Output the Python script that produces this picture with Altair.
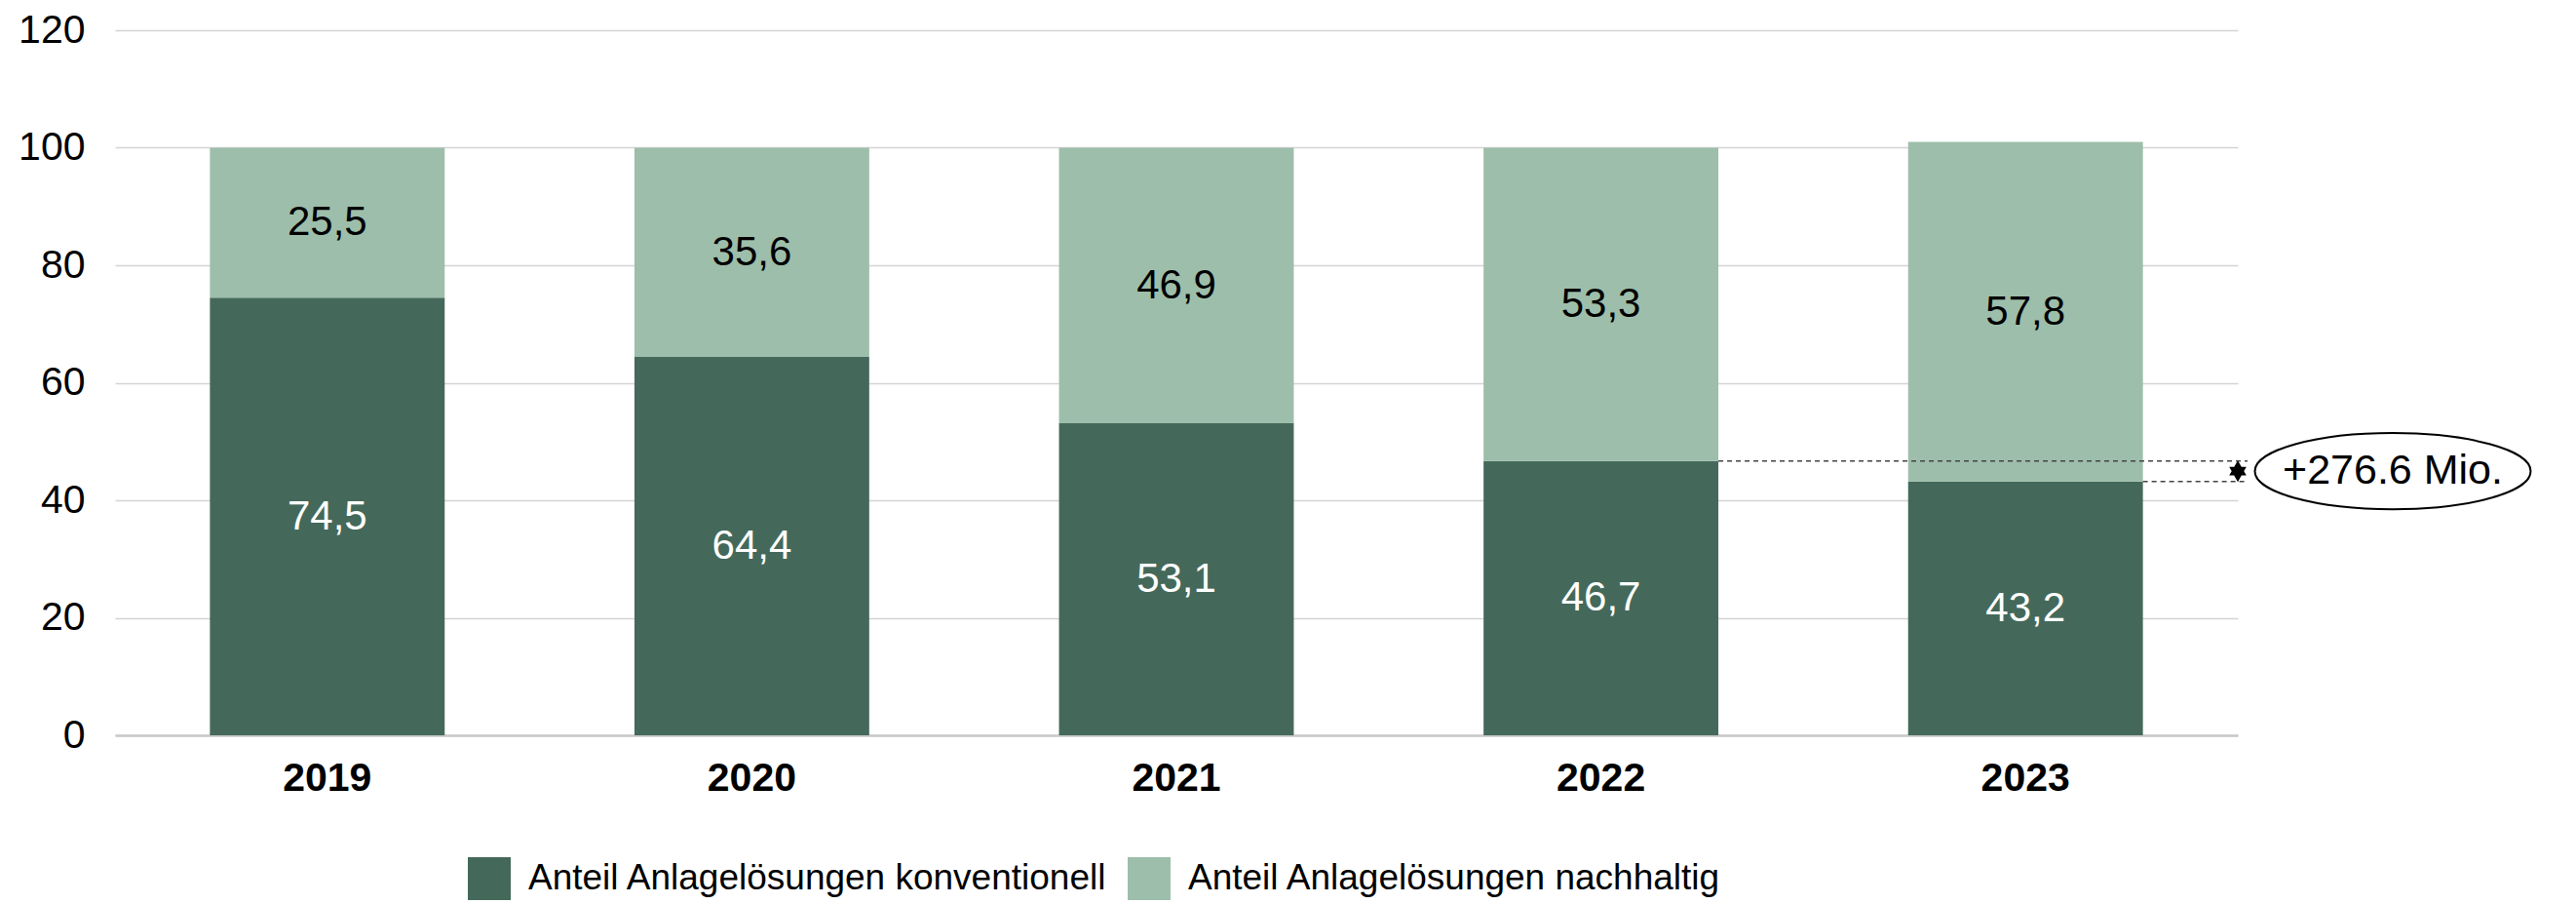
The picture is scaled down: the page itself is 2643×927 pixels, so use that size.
import altair as alt
import pandas as pd

years = ["2019", "2020", "2021", "2022", "2023"]
conv = [74.5, 64.4, 53.1, 46.7, 43.2]
sust = [25.5, 35.6, 46.9, 53.3, 57.8]
series_names = ["Anteil Anlagelösungen konventionell", "Anteil Anlagelösungen nachhaltig"]
series_colors = ["#44695A", "#9DBEAA"]
y_ticks = [0, 20, 40, 60, 80, 100, 120]
annot_text = "+276.6 Mio."

FONT = "Liberation Sans"
W, H = 2178, 723

rows = []
for i, yr in enumerate(years):
    rows.append({"year": yr, "series": series_names[0], "start": 0.0, "end": conv[i],
                 "mid": conv[i] / 2, "label": f"{conv[i]:.1f}".replace(".", ",")})
    rows.append({"year": yr, "series": series_names[1], "start": conv[i], "end": conv[i] + sust[i],
                 "mid": conv[i] + sust[i] / 2, "label": f"{sust[i]:.1f}".replace(".", ",")})
df = pd.DataFrame(rows)

xscale = alt.Scale(domain=years, paddingInner=0.447, paddingOuter=0.2235)
x_enc = alt.X("year:N", scale=xscale, title=None,
              axis=alt.Axis(labelFont=FONT, labelFontSize=41, labelFontWeight="bold",
                            labelColor="#000000", labelPadding=24, ticks=False,
                            domain=True, domainColor="#c8c8c8", domainWidth=2.5, labelAngle=0))
yscale = alt.Scale(domain=[0, 120], nice=False)

bars = alt.Chart(df).mark_bar().encode(
    x=x_enc,
    y=alt.Y("start:Q", scale=yscale, title=None,
            axis=alt.Axis(values=y_ticks, grid=True, gridColor="#d4d4d4", gridWidth=1.5,
                          domain=False, ticks=False, labelFont=FONT, labelFontSize=41,
                          labelColor="#000000", labelPadding=31)),
    y2="end:Q",
    color=alt.Color("series:N", scale=alt.Scale(domain=series_names, range=series_colors),
                    legend=alt.Legend(title=None, orient="none", direction="horizontal",
                                      legendX=362, legendY=848, symbolType="square",
                                      symbolSize=1936, symbolStrokeWidth=0, symbolOpacity=1,
                                      labelFont=FONT, labelFontSize=37, labelColor="#000000",
                                      labelOffset=18, columnPadding=20, padding=0,
                                      labelLimit=1000)),
)

labels = alt.Chart(df).mark_text(font=FONT, fontSize=42, baseline="middle", align="center").encode(
    x=alt.X("year:N", scale=xscale),
    y=alt.Y("mid:Q", scale=yscale),
    text="label:N",
    color=alt.when(alt.datum.series == series_names[0]).then(alt.value("#ffffff")).otherwise(alt.value("#000000")),
)

lines_df = pd.DataFrame([
    {"year": years[3], "val": conv[3]},
    {"year": years[4], "val": conv[4]},
])
dash_lines = alt.Chart(lines_df).mark_rule(strokeDash=[5, 4], color="#444444", strokeWidth=1.5).encode(
    x=alt.X("year:N", scale=xscale, bandPosition=1),
    x2=alt.value(W + 10),
    y=alt.Y("val:Q", scale=yscale),
)

mid_df = pd.DataFrame([{"mid": (conv[3] + conv[4]) / 2, "text": annot_text}])
arrow_path = "M0,-1 L0.8,0.4 L-0.8,0.4 Z M0,1 L-0.8,-0.4 L0.8,-0.4 Z"
arrow = alt.Chart(mid_df).mark_point(shape=arrow_path, filled=True, size=484, fill="#000000",
                                     strokeWidth=0, opacity=1).encode(
    x=alt.value(W),
    y=alt.Y("mid:Q", scale=yscale),
)
ellipse_path = "M-1,0 A1,0.276 0 1,0 1,0 A1,0.276 0 1,0 -1,0 Z"
ellipse = alt.Chart(mid_df).mark_point(shape=ellipse_path, filled=False, size=283 * 283,
                                       stroke="#000000", strokeWidth=2, opacity=1).encode(
    x=alt.value(W + 159),
    y=alt.Y("mid:Q", scale=yscale),
)
annot = alt.Chart(mid_df).mark_text(font=FONT, fontSize=43, color="#000000", baseline="middle", align="center").encode(
    x=alt.value(W + 159),
    y=alt.Y("mid:Q", scale=yscale),
    text="text:N",
)

chart = alt.layer(bars, labels, dash_lines, arrow, ellipse, annot).properties(
    width=W, height=H,
    autosize=alt.AutoSizeParams(type="none"),
    padding={"left": 110, "top": 23, "right": 330, "bottom": 176},
).configure_view(stroke=None)

chart.save("out.html", embed_options={"renderer": "svg", "actions": False})
